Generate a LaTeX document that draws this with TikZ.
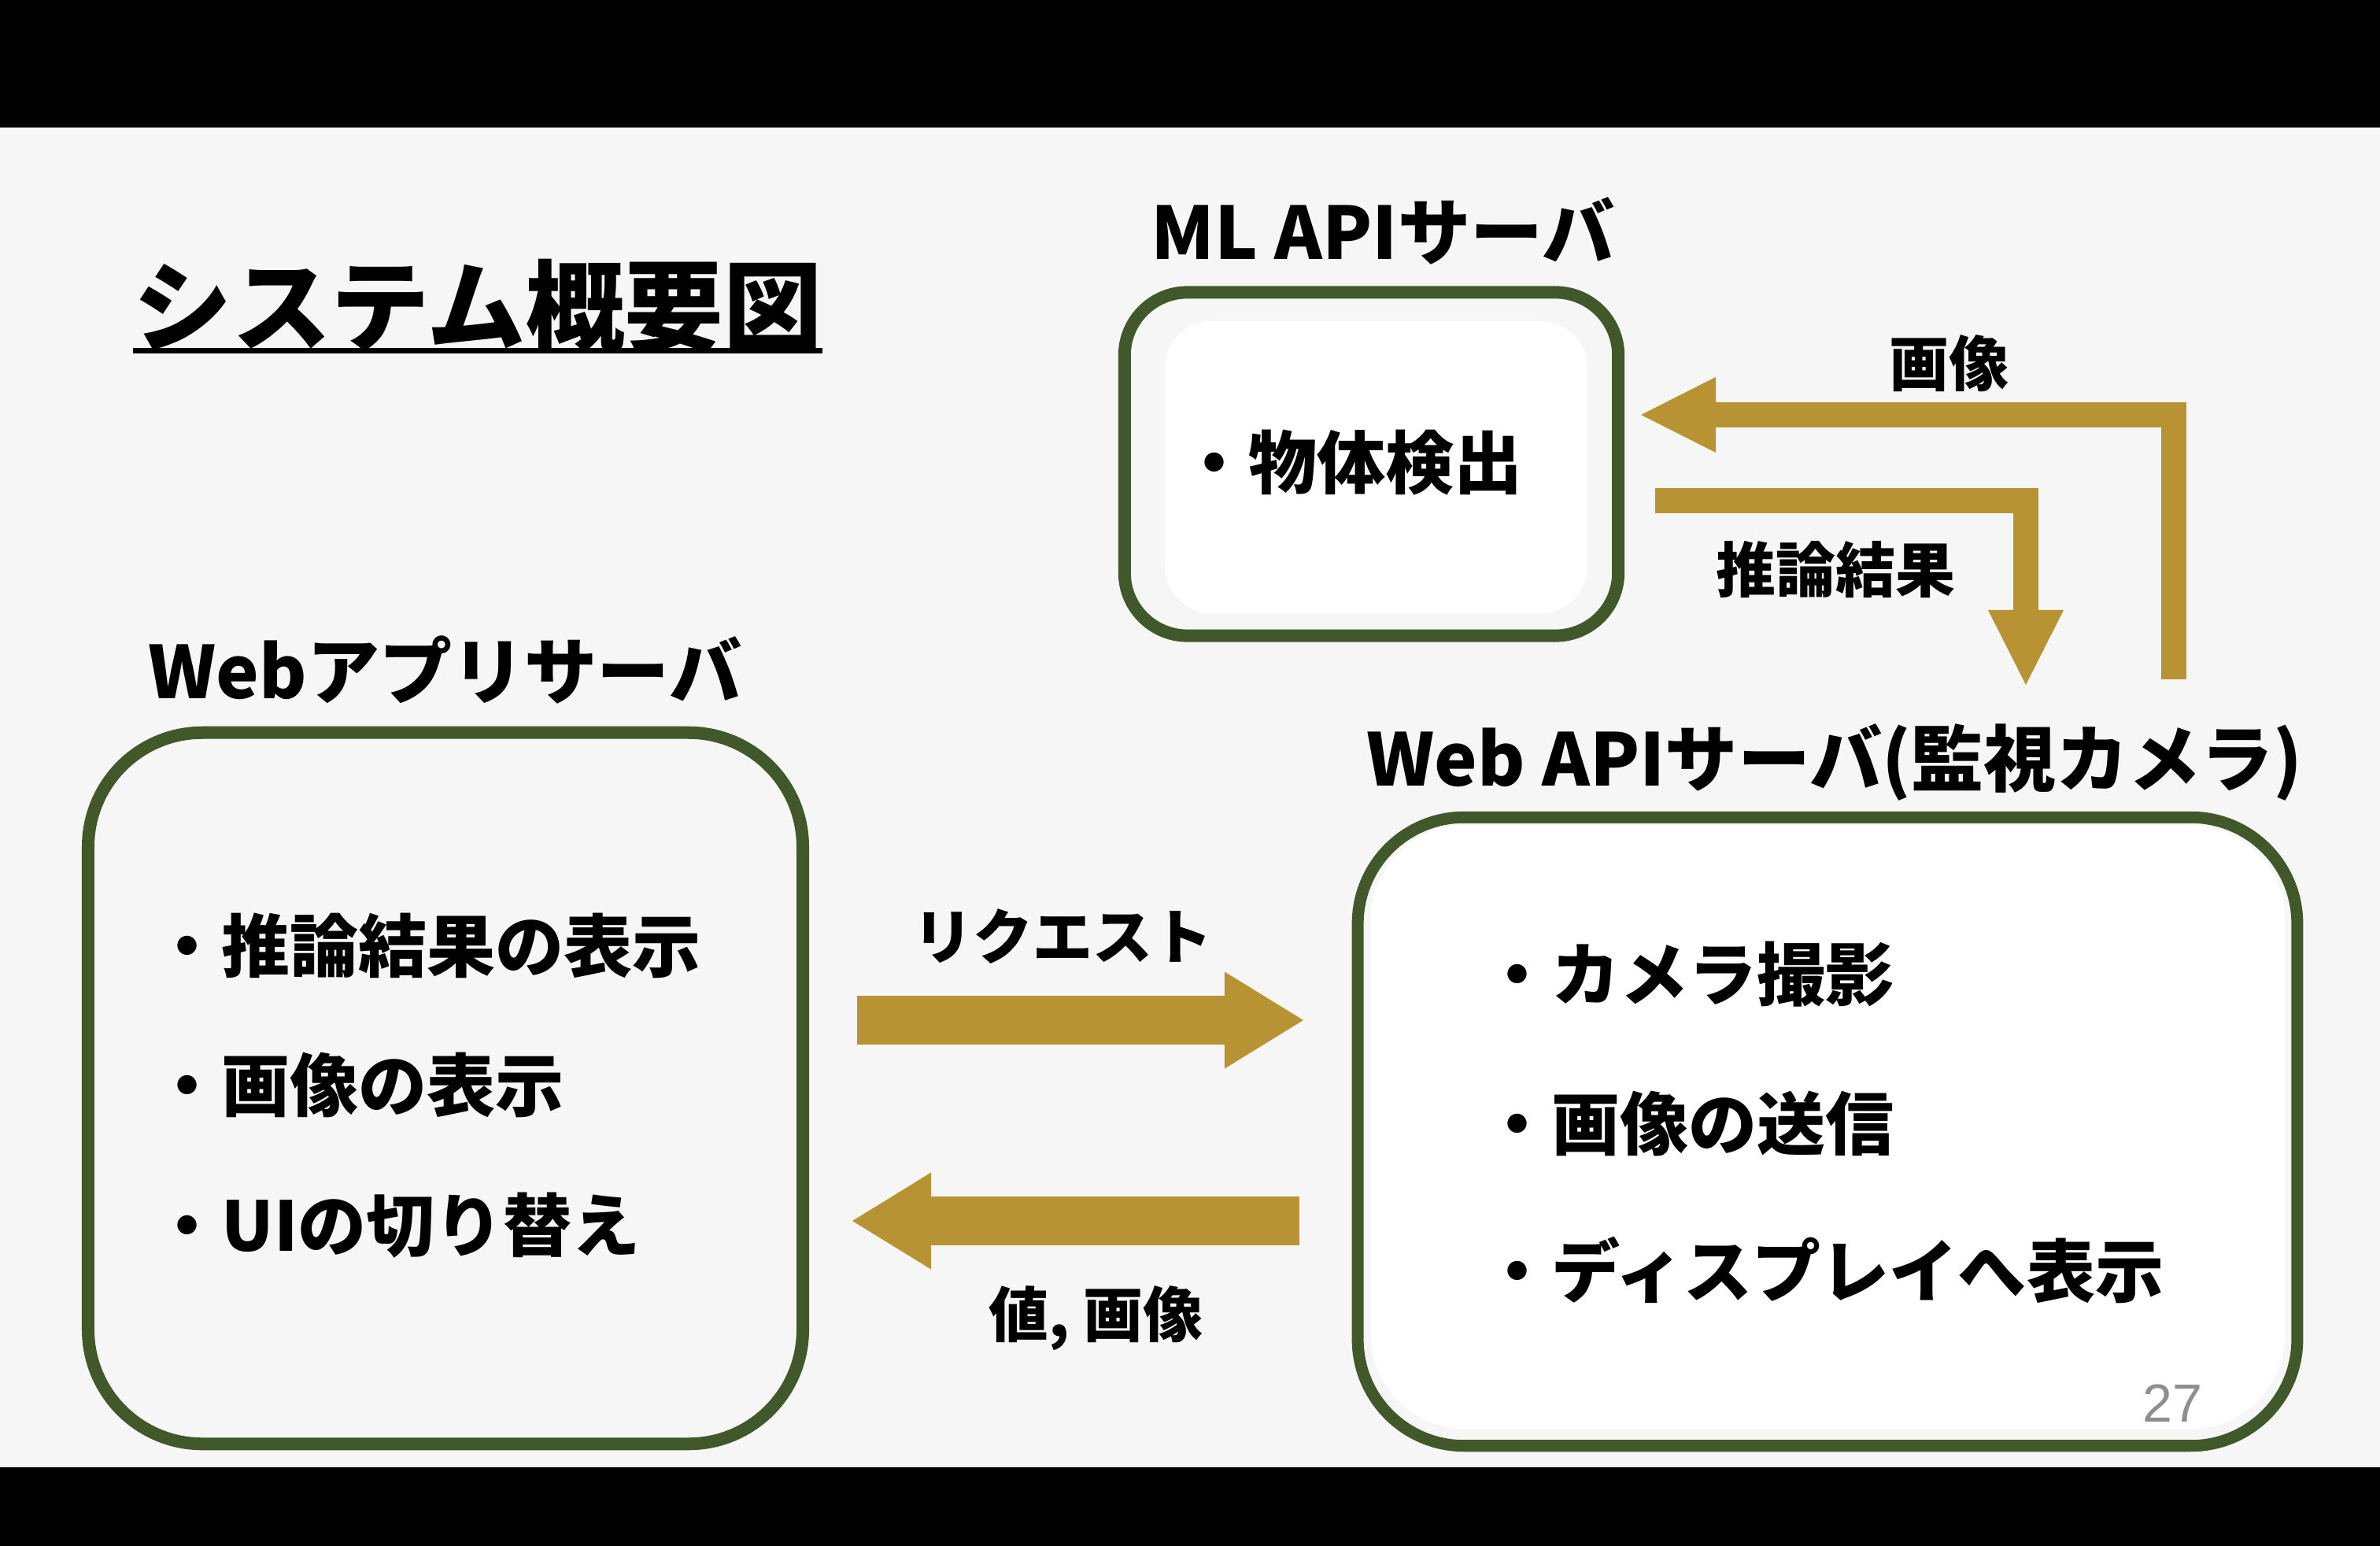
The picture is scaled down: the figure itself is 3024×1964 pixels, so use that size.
\documentclass[tikz,border=0pt]{standalone}
\usepackage{fontspec}
\newfontfamily\jpfont{Noto Sans CJK JP}
\newfontfamily\numfont{Liberation Sans}
\usetikzlibrary{arrows.meta}
\definecolor{bgcol}{HTML}{F6F6F6}
\definecolor{boxgreen}{RGB}{65,88,43}
\definecolor{gold}{RGB}{184,147,52}
\definecolor{pagegray}{HTML}{8E8E8E}
\tikzset{
  ttl/.style={font=\jpfont\bfseries\fontsize{35.7}{40}\selectfont, anchor=base west, inner sep=0},
  head/.style={font=\jpfont\bfseries\fontsize{26.2}{30}\selectfont, anchor=base west, inner sep=0},
  item/.style={font=\jpfont\bfseries\fontsize{24.75}{28}\selectfont, anchor=base west, inner sep=0},
  lbl/.style={font=\jpfont\bfseries\fontsize{21.6}{25}\selectfont, anchor=base west, inner sep=0},
  srvbox/.style={draw=boxgreen, fill=bgcol, inner sep=0},
  innerbox/.style={fill=white, inner sep=0},
  flow/.style={draw=gold, line width=0.62cm, -{Triangle[width=1.23cm, length=1.0cm, line width=0pt]}},
  slimflow/.style={draw=gold, line width=0.32cm, -{Triangle[width=0.96cm, length=0.95cm, line width=0pt]}}
}
\begin{document}
\begin{tikzpicture}[x=0.01cm, y=-0.01cm]
        \useasboundingbox (0,0) rectangle (3024,1964);
        % 背景
        \fill[black] (0,0) rectangle (3024,1964);
        \fill[bgcol] (0,162) rectangle (3024,1864);
        % タイトル
        \node[ttl] (title) at (169,436) {システム概要図};
        \draw[line width=0.07cm] ([yshift=-0.095cm]title.base west) -- ([yshift=-0.095cm]title.base east);
        % 箱
        \node[srvbox, line width=0.16cm, rounded corners=1.45cm, minimum width=9.075cm, minimum height=9.03cm] (webapp) at (566,1382.5) {};
        \node[srvbox, line width=0.16cm, rounded corners=0.8cm, minimum width=6.27cm, minimum height=4.36cm] (mlapi) at (1742.5,589.5) {};
        \node[innerbox, rounded corners=0.6cm, minimum width=5.37cm, minimum height=3.71cm] (mlin) at (1748.5,593.5) {};
        \node[srvbox, line width=0.15cm, rounded corners=1.35cm, minimum width=11.93cm, minimum height=7.98cm] (webapi) at (2322,1437.5) {};
        \node[innerbox, rounded corners=1.2cm, minimum width=11.61cm, minimum height=7.67cm] (webin) at (2322.5,1431.5) {};
        % 見出し
        \node[head] (mlhead) at (1462,330) {ML APIサーバ};
        \node[head] (apphead) at (188,887) {Webアプリサーバ};
        \node[head] (apihead) at (1736,998) {Web APIサーバ(監視カメラ)};
        % 項目
        \node[item] (ml1) at (1499,620) {・物体検出};
        \node[item] (app1) at (194,1234) {・推論結果の表示};
        \node[item] (app2) at (194,1411) {・画像の表示};
        \node[item] (app3) at (194,1589) {・UIの切り替え};
        \node[item] (api1) at (1884,1270) {・カメラ撮影};
        \node[item] (api2) at (1884,1460) {・画像の送信};
        \node[item] (api3) at (1884,1647) {・ディスプレイへ表示};
        % 矢印
        \coordinate (reqs) at (1089,1296);
        \coordinate (reqe) at (1656,1296);
        \coordinate (ress) at (1651,1551);
        \coordinate (rese) at (1083,1551);
        \coordinate (imgs) at (2762,863);
        \coordinate (imge) at (2085,527);
        \coordinate (infs) at (2103,636);
        \coordinate (infe) at (2574,870);
        \draw[flow] (reqs) -- (reqe);
        \draw[flow] (ress) -- (rese);
        \draw[slimflow] (imgs) |- (imge);
        \draw[slimflow] (infs) -| (infe);
        % ラベル
        \node[lbl] (imglbl) at (2400,491) {画像};
        \node[lbl] (inflbl) at (2180,752) {推論結果};
        \node[lbl] (reqlbl) at (1160,1218) {リクエスト};
        \node[lbl] (reslbl) at (1256,1698) {値, 画像};
        % ページ番号
        \node[anchor=base west, inner sep=0, text=pagegray, font=\numfont\fontsize{19.4}{22}\selectfont] (pageno) at (2722,1806) {27};
      \end{tikzpicture}
\end{document}
